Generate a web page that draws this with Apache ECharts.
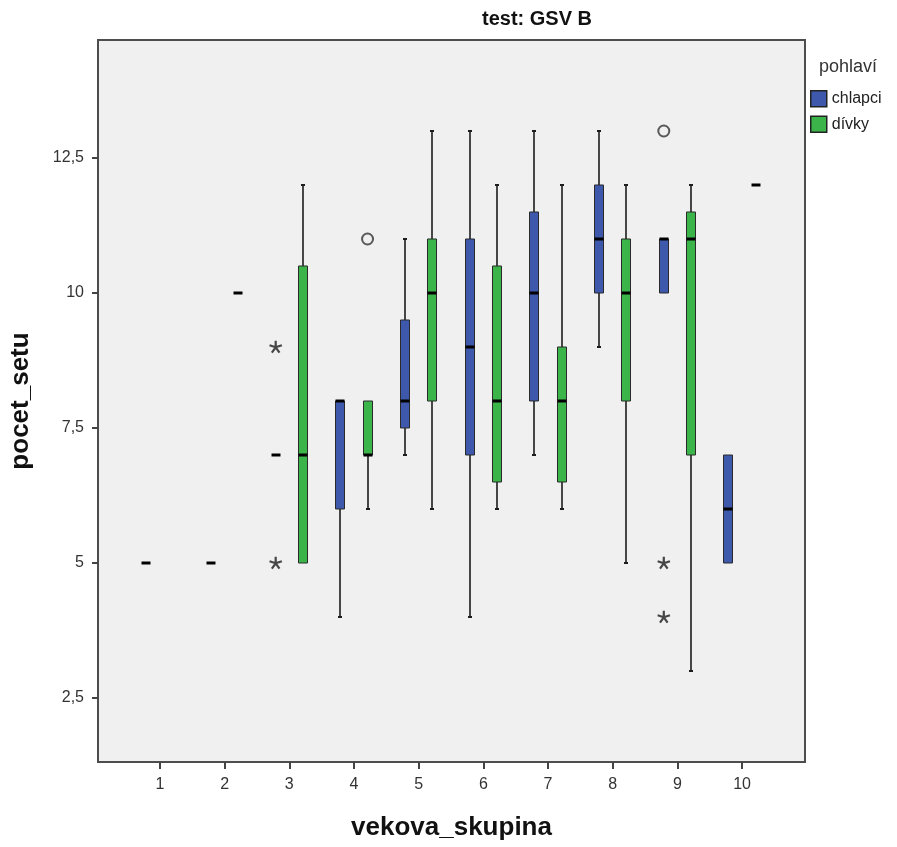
<!DOCTYPE html>
<html><head><meta charset="utf-8">
<script src="https://cdn.jsdelivr.net/npm/echarts@6/dist/echarts.min.js"></script>
<style>html,body{margin:0;padding:0;background:#fff}#c{width:897px;height:847px}</style>
</head><body><div id="c"></div>
<script>
const categories = [1, 2, 3, 4, 5, 6, 7, 8, 9, 10];
const yTicks = [2.5, 5, 7.5, 10, 12.5];
const seriesNames = ['chlapci', 'dívky'];
// [min, Q1, median, Q3, max] per category (null = no data)
const chlapciBox = [[5,5,5,5,5],[5,5,5,5,5],[7,7,7,7,7],[4,6,8,8,8],[7,7.5,8,9.5,11],[4,7,9,11,13],[7,8,10,11.5,13],[9,10,11,12,13],[10,10,11,11,11],[5,5,6,7,7]];
const divkyBox = [null,[10,10,10,10,10],[5,5,7,10.5,12],[6,7,7,8,8],[6,8,10,11,13],[6,6.5,8,10.5,12],[6,6.5,8,9,12],[5,8,10,11,12],[3,7,11,11.5,12],[12,12,12,12,12]];
// outliers (circle) and extremes (asterisk): [category, value]
const chlapciOutliers = [[9, 13]];
const chlapciExtremes = [[3, 9], [3, 5], [9, 5], [9, 4]];
const divkyOutliers = [[4, 11]];
const divkyExtremes = [];

const BLUE = '#3E58AB', GREEN = '#3BB54A';
const OFF = 0.21;
const FONT = "'Liberation Sans', Arial, sans-serif";
const NARROW = "'Liberation Sans Narrow', 'Arial Narrow', 'Liberation Sans', Arial, sans-serif";

function starPath() {
  let d = '';
  const L = 50, w = 17, cx = 50, cy = 50;
  for (let k = 0; k < 5; k++) {
    const a = (-90 + k * 72) * Math.PI / 180;
    const dx = Math.cos(a), dy = Math.sin(a), px = -dy * w / 2, py = dx * w / 2;
    const tx = cx + dx * L, ty = cy + dy * L;
    d += `M${(cx+px).toFixed(2)} ${(cy+py).toFixed(2)}L${(tx+px).toFixed(2)} ${(ty+py).toFixed(2)}L${(tx-px).toFixed(2)} ${(ty-py).toFixed(2)}L${(cx-px).toFixed(2)} ${(cy-py).toFixed(2)}Z`;
  }
  return 'path://' + d;
}

function makeRender(offset, color) {
  return function (params, api) {
    const x = api.value(0) + offset;
    const vmin = api.value(1), q1 = api.value(2), med = api.value(3), q3 = api.value(4), vmax = api.value(5);
    const pMin = api.coord([x, vmin]), pQ1 = api.coord([x, q1]), pMed = api.coord([x, med]);
    const pQ3 = api.coord([x, q3]), pMax = api.coord([x, vmax]);
    const cx = Math.round(pMed[0]);
    const hw = 4.5;
    const ch = [];
    const ws = { stroke: '#1c1c1c', lineWidth: 1.6 };
    const cs = { stroke: '#1c1c1c', lineWidth: 2 };
    if (vmax > q3) {
      ch.push({ type: 'line', shape: { x1: cx, y1: pMax[1], x2: cx, y2: pQ3[1] }, style: ws });
      ch.push({ type: 'line', shape: { x1: cx - 2, y1: pMax[1], x2: cx + 2, y2: pMax[1] }, style: cs });
    }
    if (vmin < q1) {
      ch.push({ type: 'line', shape: { x1: cx, y1: pMin[1], x2: cx, y2: pQ1[1] }, style: ws });
      ch.push({ type: 'line', shape: { x1: cx - 2, y1: pMin[1], x2: cx + 2, y2: pMin[1] }, style: cs });
    }
    if (q3 > q1) {
      ch.push({ type: 'rect', shape: { x: cx - hw, y: pQ3[1], width: hw * 2, height: pQ1[1] - pQ3[1] },
        style: { fill: color, stroke: '#2a2a2a', lineWidth: 1 } });
    }
    ch.push({ type: 'rect', shape: { x: cx - hw, y: pMed[1] - 1.5, width: hw * 2, height: 3 }, style: { fill: '#000' } });
    return { type: 'group', children: ch };
  };
}

function boxData(arr) {
  const out = [];
  categories.forEach((c, i) => { if (arr[i]) out.push([c].concat(arr[i])); });
  return out;
}
function ptData(arr, off) { return arr.map(p => [p[0] + off, p[1]]); }

const chart = echarts.init(document.getElementById('c'), null, { renderer: 'canvas' });
chart.setOption({
  animation: false,
  backgroundColor: '#ffffff',
  grid: { left: 97, top: 40, width: 708, height: 722, show: true, backgroundColor: '#F0F0F0', borderColor: '#4d4d4d', borderWidth: 2 },
  graphic: [
    { type: 'text', x: 537, y: 19, style: { text: 'test: GSV B', font: "bold 20px " + NARROW, fill: '#111', align: 'center', verticalAlign: 'middle' } },
    { type: 'text', x: 819, y: 67, style: { text: 'pohlaví', font: "18px " + FONT, fill: '#333', align: 'left', verticalAlign: 'middle' } }
  ],
  legend: {
    orient: 'vertical', left: 805, top: 85, itemWidth: 16, itemHeight: 16, itemGap: 8, icon: 'rect', selectedMode: false,
    textStyle: { fontSize: 16, color: '#222', fontFamily: FONT },
    data: [
      { name: seriesNames[0], itemStyle: { color: BLUE, borderColor: '#222', borderWidth: 1.5 } },
      { name: seriesNames[1], itemStyle: { color: GREEN, borderColor: '#222', borderWidth: 1.5 } }
    ]
  },
  xAxis: {
    type: 'value', min: 0.043, max: 10.973,
    name: 'vekova_skupina', nameLocation: 'middle', nameGap: 53,
    nameTextStyle: { fontSize: 26, fontWeight: 'bold', color: '#111', fontFamily: FONT },
    axisLine: { show: false },
    axisTick: { show: true, length: 7, lineStyle: { color: '#444', width: 2 }, customValues: categories },
    axisLabel: { customValues: categories, margin: 15, fontSize: 16, color: '#333', fontFamily: NARROW },
    splitLine: { show: false }
  },
  yAxis: {
    type: 'value', min: 1.315, max: 14.685,
    name: 'pocet_setu', nameLocation: 'middle', nameGap: 64,
    nameTextStyle: { fontSize: 26, fontWeight: 'bold', color: '#111', fontFamily: FONT },
    axisLine: { show: false },
    axisTick: { show: true, length: 6, lineStyle: { color: '#444', width: 2 }, customValues: yTicks },
    axisLabel: { customValues: yTicks, margin: 14, fontSize: 16, color: '#333', fontFamily: NARROW,
      formatter: v => String(v).replace('.', ',') },
    splitLine: { show: false }
  },
  series: [
    { name: seriesNames[0], type: 'custom', renderItem: makeRender(-OFF, BLUE), itemStyle: { color: BLUE },
      encode: { x: 0, y: [1, 2, 3, 4, 5] }, data: boxData(chlapciBox) },
    { name: seriesNames[1], type: 'custom', renderItem: makeRender(OFF, GREEN), itemStyle: { color: GREEN },
      encode: { x: 0, y: [1, 2, 3, 4, 5] }, data: boxData(divkyBox) },
    { name: 'outliers_c', type: 'scatter', symbol: 'circle', symbolSize: 11,
      itemStyle: { color: 'rgba(0,0,0,0)', borderColor: '#333', borderWidth: 2 }, data: ptData(chlapciOutliers, -OFF) },
    { name: 'outliers_d', type: 'scatter', symbol: 'circle', symbolSize: 11,
      itemStyle: { color: 'rgba(0,0,0,0)', borderColor: '#333', borderWidth: 2 }, data: ptData(divkyOutliers, OFF) },
    { name: 'extremes_c', type: 'scatter', symbol: starPath(), symbolSize: 13, symbolKeepAspect: true,
      itemStyle: { color: '#1a1a1a' }, data: ptData(chlapciExtremes, -OFF) },
    { name: 'extremes_d', type: 'scatter', symbol: starPath(), symbolSize: 13, symbolKeepAspect: true,
      itemStyle: { color: '#1a1a1a' }, data: ptData(divkyExtremes, OFF) }
  ]
});
</script>
</body></html>
